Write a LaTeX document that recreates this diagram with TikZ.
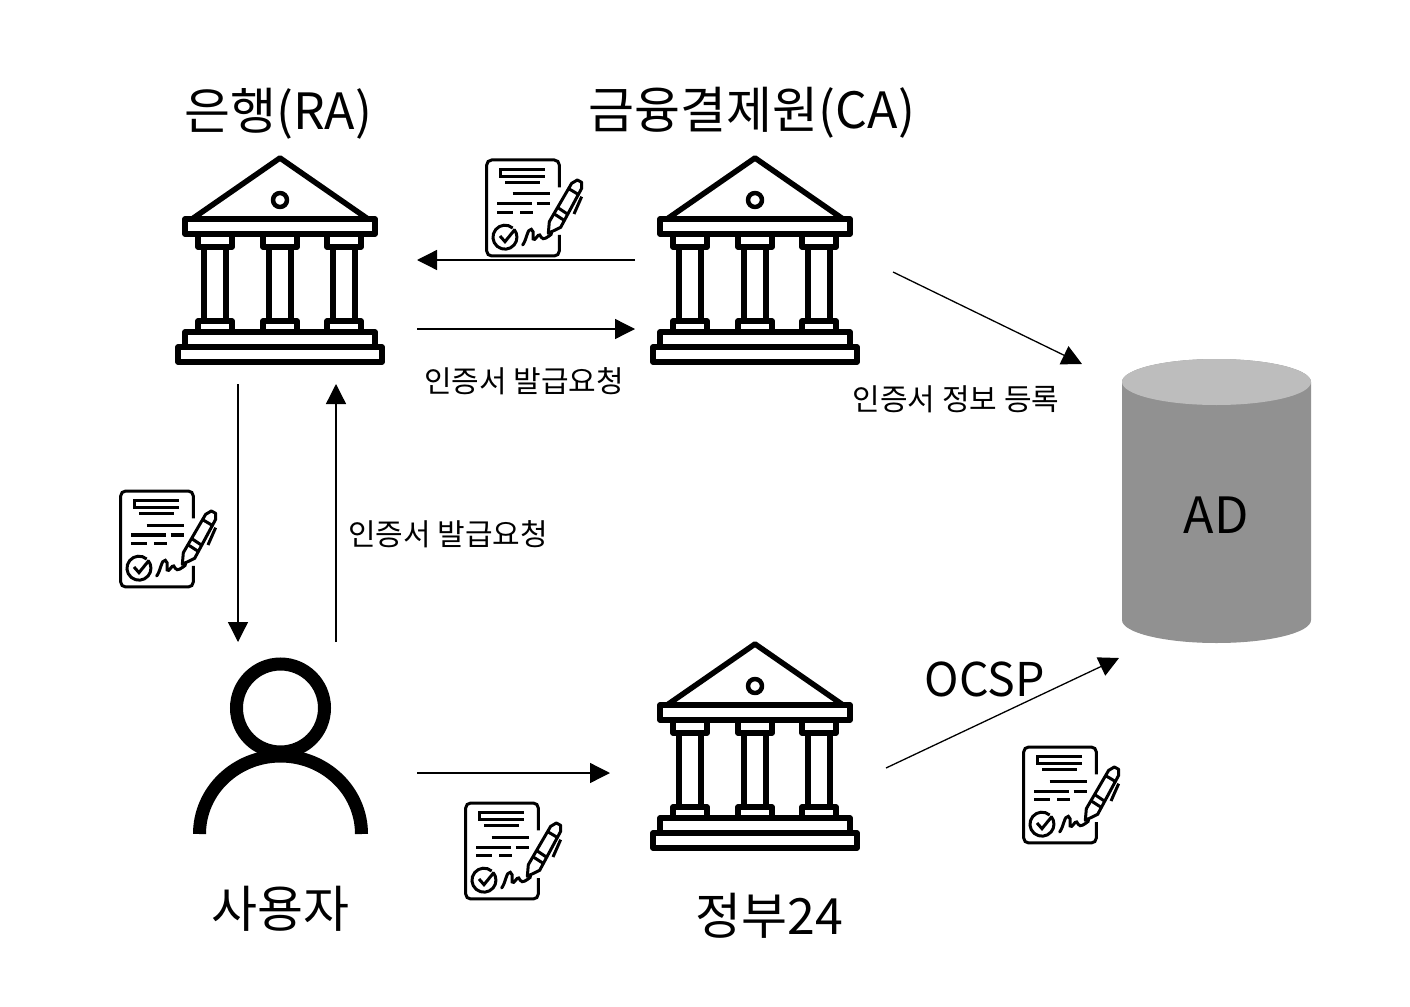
\documentclass[tikz,border=0pt]{standalone}
\usepackage{fontspec}
\usetikzlibrary{arrows.meta}
\setmainfont{Noto Sans CJK KR}
\definecolor{cylbody}{HTML}{919191}
\definecolor{cyltop}{HTML}{BDBDBD}
\tikzset{
  x=1pt,y=-1pt,
  hub/.style={inner sep=0pt,outer sep=0pt,minimum size=0pt},
  flow/.style={draw=black,line width=1.3pt,-{Triangle[length=20pt,width=20pt]}},
  big/.style={font=\fontsize{50}{56}\selectfont,text=black,inner sep=0pt},
  small/.style={font=\fontsize{30}{34}\selectfont,text=black,inner sep=0pt},
  bank/.pic={
    \begin{scope}[line width=5.5pt,line join=round,draw=black]
      \draw (-88,62) -- (0,1) -- (88,62);
      \draw[line cap=round] (-93,62) -- (-38,62);
      \draw[line cap=round] (-27,62) -- (93,62);
      \draw (-95,62) rectangle (95,77);
      \draw[line width=4.5pt] (0,43) circle (7);
      \foreach \c in {-65,0,64}{
        \draw (\c-17,77) rectangle (\c+17,90);
        \draw (\c-11,90) -- (\c-11,164) (\c+11,90) -- (\c+11,164);
        \draw (\c-17,164) rectangle (\c+17,175);
      }
      \draw (-95,175) rectangle (95,190);
      \draw (-102,190) rectangle (102,205);
    \end{scope}
  },
  cert/.pic={
    \begin{scope}[x=0.3333pt,y=-0.3333pt,line width=3pt,draw=black]
      \draw[rounded corners=5pt] (268,112) -- (268,30) -- (50,30) -- (50,318) -- (268,318) -- (268,255);
      \draw (225,58) -- (92,58) -- (92,80) -- (225,80);
      \draw (105,98) -- (210,98);
      \draw (128,132) -- (240,132);
      \draw (82,162) -- (185,162) (200,162) -- (240,162);
      \draw (82,187) -- (130,187) (150,187) -- (190,187);
      \draw (128,234) arc[start angle=-50,end angle=-400,radius=36];
      \draw (90,258) -- (105,275) -- (135,238);
      \draw[line cap=round] (158,285) .. controls (170,270) and (172,235) .. (184,238)
        .. controls (197,242) and (182,275) .. (194,268)
        .. controls (202,262) and (207,245) .. (214,262)
        .. controls (220,272) and (232,262) .. (245,252);
      \draw[line join=round] (235,250) -- (238,215) -- (305,100) -- (322,90) -- (335,97) -- (335,115) -- (272,232) -- cycle;
      \draw (250,190) -- (284,212);
      \draw (262,172) -- (292,192);
      \draw (296,116) -- (328,135);
      \draw (335,140) -- (312,192);
    \end{scope}
  }
}
\begin{document}
\begin{tikzpicture}
  \useasboundingbox (0,0) rectangle (1410,1006);
  \fill[white] (0,0) rectangle (1410,1006);

  \node[hub] (ra) at (280,157) {};
  \node[hub] (ca) at (755,157) {};
  \node[hub] (gov) at (755,643) {};
  \node[hub] (user) at (280,700) {};
  \node[hub] (ad) at (1216,500) {};

  \pic at (ra) {bank};
  \pic at (ca) {bank};
  \pic at (gov) {bank};

  \pic at (470,150) {cert};
  \pic at (104,481) {cert};
  \pic at (449,793) {cert};
  \pic at (1007,737) {cert};

  % user
  \draw[line width=13pt] (280.5,708) circle (44);
  \draw[line width=13pt] (199.5,834) arc[start angle=180,end angle=360,x radius=81,y radius=78];

  % database
  \fill[cylbody] (1122,382) -- (1122,620) arc[start angle=180,end angle=360,x radius=94.5,y radius=-23]
     -- (1311,382) arc[start angle=0,end angle=180,x radius=94.5,y radius=-23] -- cycle;
  \fill[cyltop] (1216.5,382) ellipse[x radius=94.5,y radius=23];

  % connectors
  \draw[flow] ([shift={(-120,103)}]ca.center) -- ([shift={(137,103)}]ra.center);
  \draw[flow] ([shift={(137,172)}]ra.center) -- ([shift={(-120,172)}]ca.center);
  \draw[flow] ([shift={(138,115)}]ca.center) -- ([shift={(-134,-136)}]ad.center);
  \draw[flow] ([shift={(-42,227)}]ra.center) -- ([shift={(-42,-58)}]user.center);
  \draw[flow] ([shift={(56,-58)}]user.center) -- ([shift={(56,227)}]ra.center);
  \draw[flow] ([shift={(137,73)}]user.center) -- ([shift={(-145,130)}]gov.center);
  \draw[flow] ([shift={(131,125)}]gov.center) -- ([shift={(-97,158)}]ad.center);

  % labels
  \node[big] (lra) at (278,114) {은행(RA)};
  \node[big] (lca) at (752,113) {금융결제원(CA)};
  \node[big] (lad) at (1216,515) {AD};
  \node[big] (lusr) at (280,909) {사용자};
  \node[big] (lgov) at (769,916) {정부24};
  \node[big,font=\fontsize{46.5}{52}\selectfont] (locsp) at (985,679) {OCSP};
  \node[small] (l1) at (524,381) {인증서 발급요청};
  \node[small] (l2) at (956,399) {인증서 정보 등록};
  \node[small] (l3) at (448,534) {인증서 발급요청};
\end{tikzpicture}
\end{document}
